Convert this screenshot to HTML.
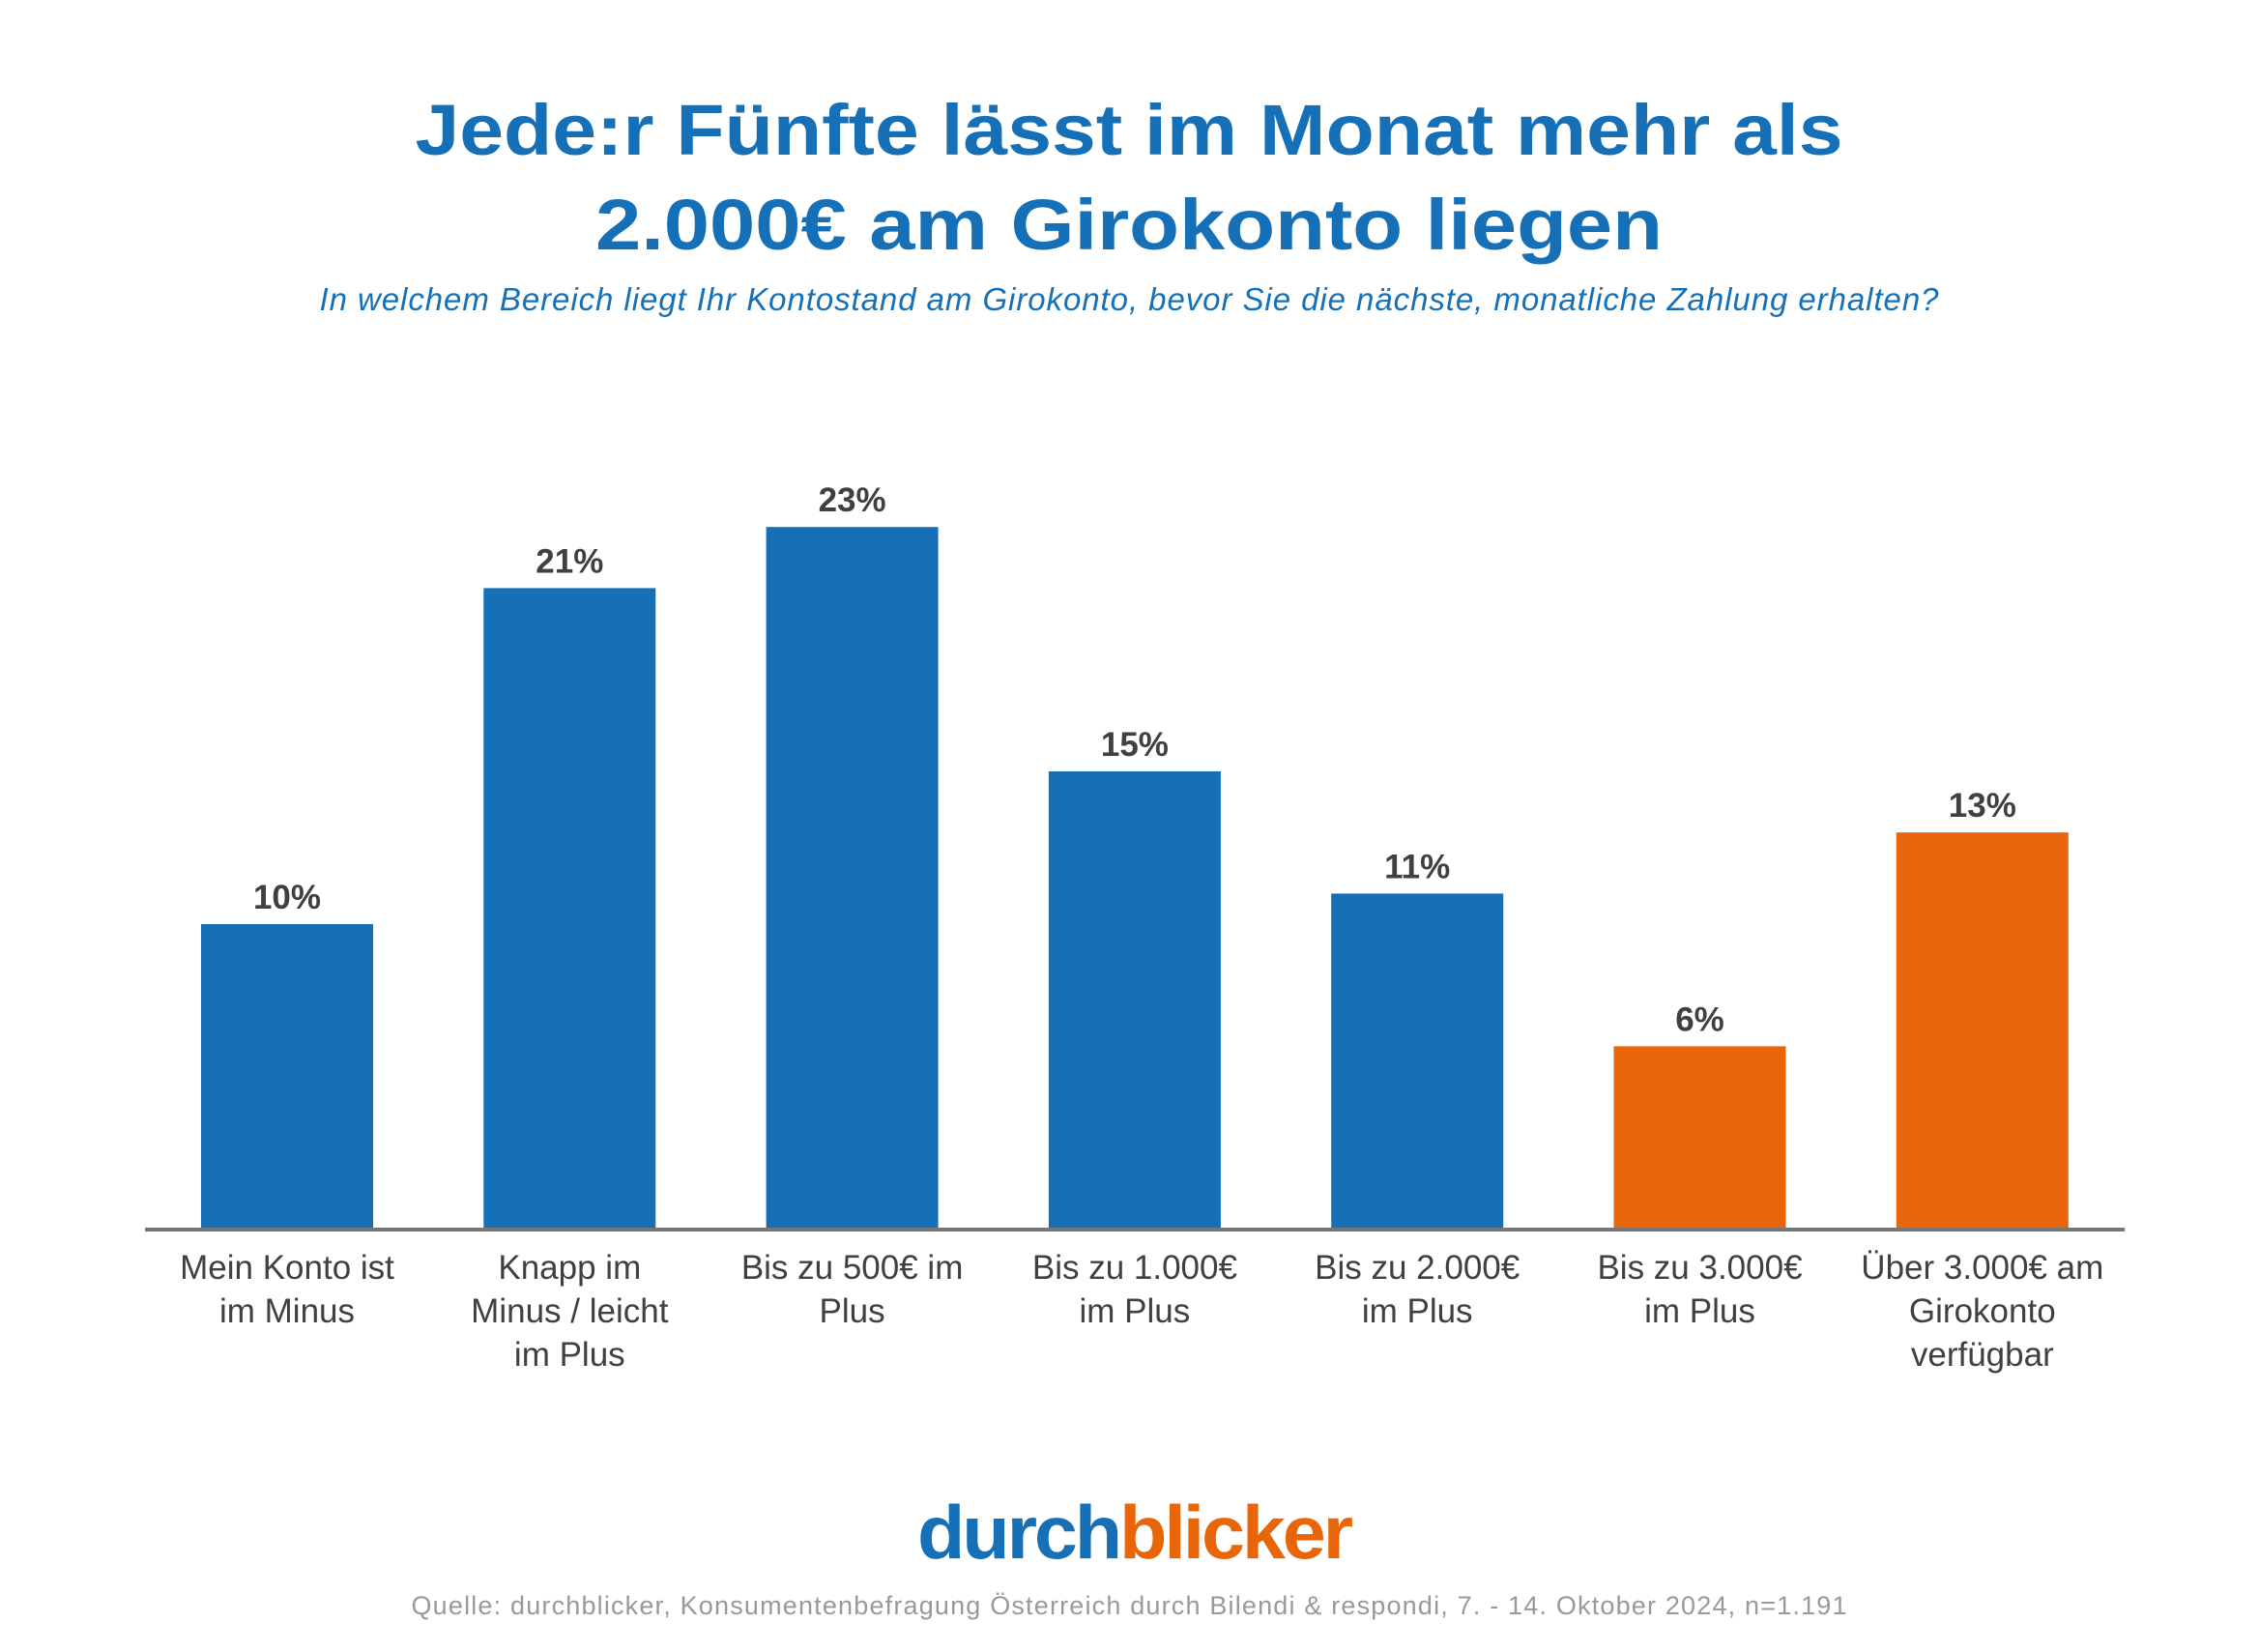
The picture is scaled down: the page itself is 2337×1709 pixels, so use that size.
<!DOCTYPE html>
<html><head><meta charset="utf-8"><style>
body{margin:0;background:#fff;}
svg text{font-family:"Liberation Sans",sans-serif;}
</style></head><body>
<svg width="2337" height="1704" viewBox="0 0 2337 1704" xmlns="http://www.w3.org/2000/svg">
<text x="1168" y="160" text-anchor="middle" font-size="74" font-weight="bold" fill="#1670b8" textLength="1477" lengthAdjust="spacingAndGlyphs">Jede:r Fünfte lässt im Monat mehr als</text>
<text x="1168" y="258" text-anchor="middle" font-size="74" font-weight="bold" fill="#1670b8" textLength="1104" lengthAdjust="spacingAndGlyphs">2.000€ am Girokonto liegen</text>
<text x="1168" y="321" text-anchor="middle" font-size="33" font-style="italic" fill="#1670b8" textLength="1675">In welchem Bereich liegt Ihr Kontostand am Girokonto, bevor Sie die nächste, monatliche Zahlung erhalten?</text>
<g id="bars"></g>
<line x1="150" y1="1272" x2="2198" y2="1272" stroke="#777" stroke-width="4"/>
<text x="1173" y="1612" text-anchor="middle" font-size="78" font-weight="bold" letter-spacing="-3" textLength="448" lengthAdjust="spacingAndGlyphs"><tspan fill="#1670b8">durch</tspan><tspan fill="#e8650a">blicker</tspan></text>
<text x="1168" y="1670" text-anchor="middle" font-size="27" fill="#999" textLength="1485">Quelle: durchblicker, Konsumentenbefragung Österreich durch Bilendi &amp; respondi, 7. - 14. Oktober 2024, n=1.191</text>
</svg>
<script>
const categories = [["Mein Konto ist","im Minus"],["Knapp im","Minus / leicht","im Plus"],["Bis zu 500€ im","Plus"],["Bis zu 1.000€","im Plus"],["Bis zu 2.000€","im Plus"],["Bis zu 3.000€","im Plus"],["Über 3.000€ am","Girokonto","verfügbar"]];
const values = [10,21,23,15,11,6,13];
const labels = ["10%","21%","23%","15%","11%","6%","13%"];
const colors = ["#1670b8","#1670b8","#1670b8","#1670b8","#1670b8","#e8650a","#e8650a"];
const NS="http://www.w3.org/2000/svg";
const g=document.getElementById('bars');
const base=1272, perPct=31.6, x0=297, step=292.3, bw=178;
const xPos=i=>x0+i*step;
const yPos=v=>base-v*perPct;
values.forEach((v,i)=>{
  const r=document.createElementNS(NS,'rect');
  r.setAttribute('x',xPos(i)-bw/2);r.setAttribute('y',yPos(v));
  r.setAttribute('width',bw);r.setAttribute('height',base-yPos(v));
  r.setAttribute('fill',colors[i]);
  
  
  g.appendChild(r);
  const t=document.createElementNS(NS,'text');
  t.setAttribute('x',xPos(i));t.setAttribute('y',yPos(v)-16);
  t.setAttribute('text-anchor','middle');t.setAttribute('font-size','35');
  t.setAttribute('font-weight','bold');t.setAttribute('fill','#404040');
  t.textContent=labels[i];
  
  
  g.appendChild(t);
  categories[i].forEach((line,j)=>{
    const c=document.createElementNS(NS,'text');
    c.setAttribute('x',xPos(i));c.setAttribute('y',1323+j*45);
    c.setAttribute('text-anchor','middle');c.setAttribute('font-size','35');
    c.setAttribute('fill','#404040');
    c.textContent=line;
    
    
    g.appendChild(c);
  });
});
</script>
</body></html>
